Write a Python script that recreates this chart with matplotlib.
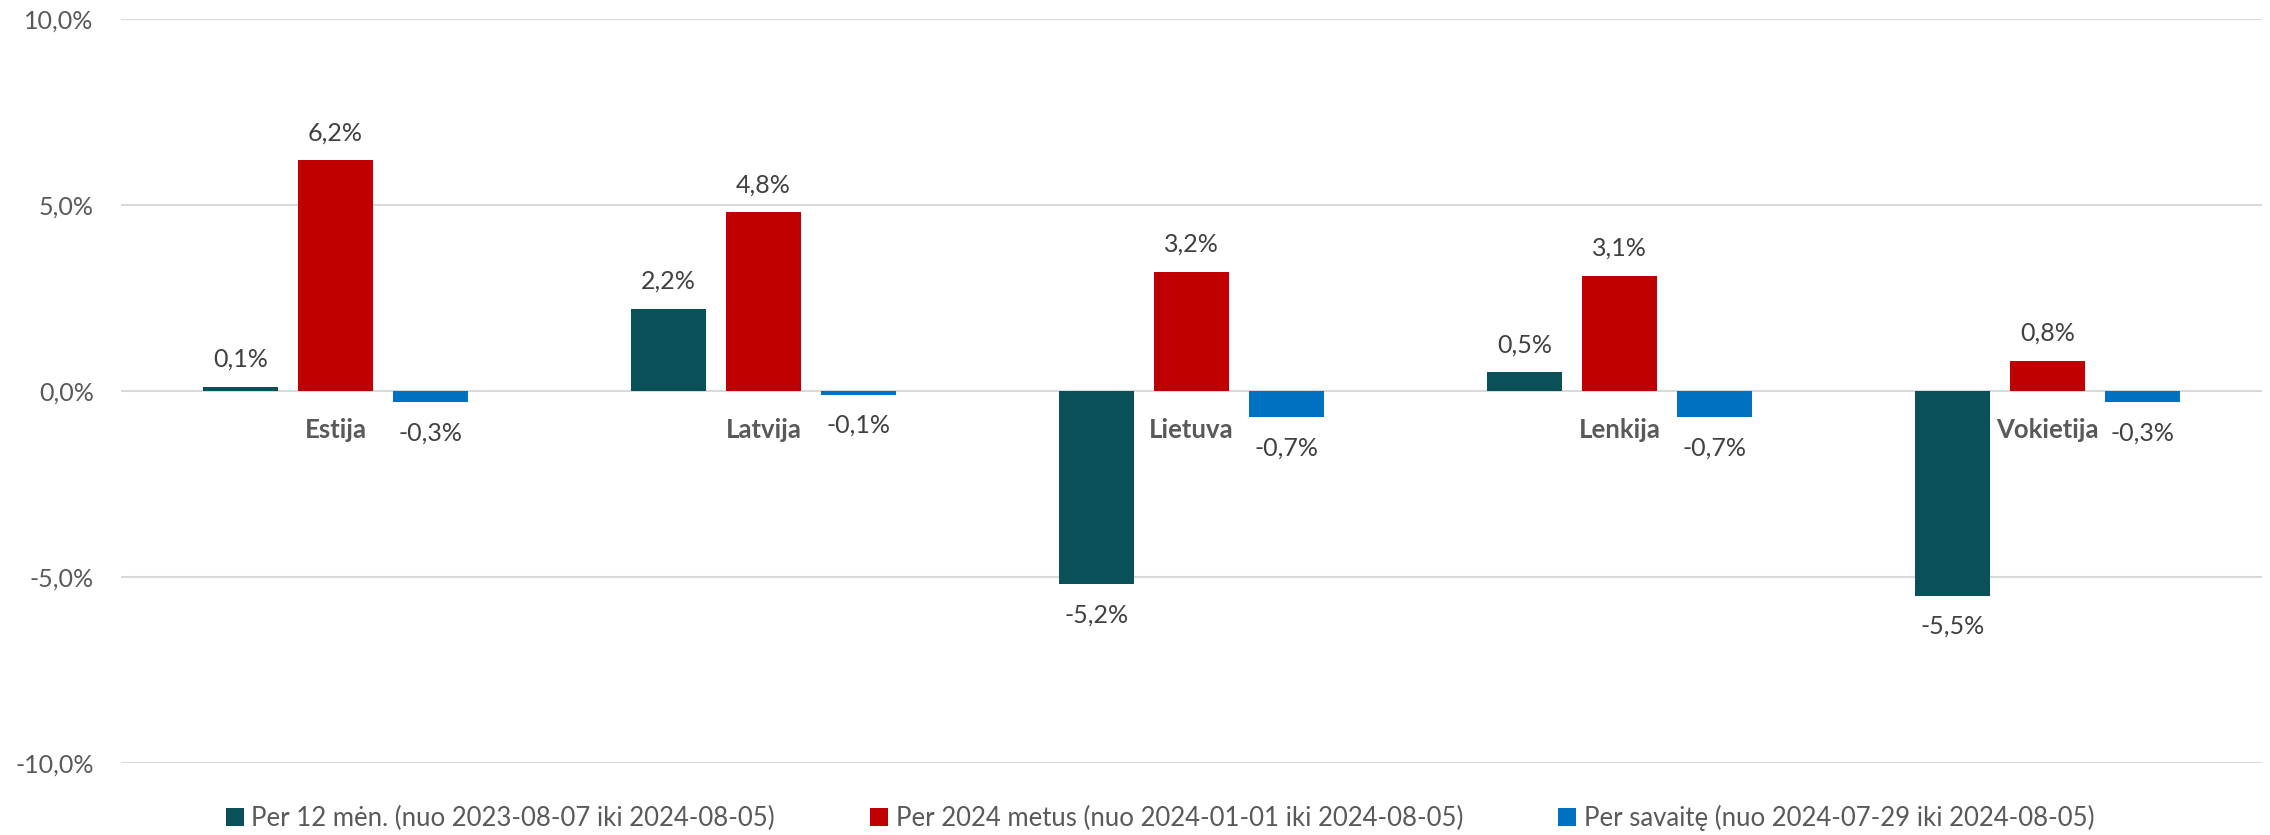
import matplotlib
matplotlib.use("Agg")
import matplotlib.pyplot as plt
import numpy as np
from matplotlib.ticker import FuncFormatter

plt.rcParams["font.family"] = ["Lato", "DejaVu Sans"]

countries = ["Estija", "Latvija", "Lietuva", "Lenkija", "Vokietija"]
series_names = [
    "Per 12 mėn. (nuo 2023-08-07 iki 2024-08-05)",
    "Per 2024 metus (nuo 2024-01-01 iki 2024-08-05)",
    "Per savaitę (nuo 2024-07-29 iki 2024-08-05)",
]
per_12m = [0.1, 2.2, -5.2, 0.5, -5.5]
per_2024 = [6.2, 4.8, 3.2, 3.1, 0.8]
per_week = [-0.3, -0.1, -0.7, -0.7, -0.3]
colors = ["#0A5058", "#C00000", "#0070C0"]


def pct(v):
    return f"{v:.1f}%".replace(".", ",")


fig = plt.figure(figsize=(22.7, 8.35), dpi=100)
ax = fig.add_axes([121.5 / 2270, 1 - 763 / 835, (2261.5 - 121.5) / 2270, (763 - 19) / 835])

x = np.arange(len(countries))
width = 0.175
step = 0.222
for j, (vals, name, col) in enumerate(zip([per_12m, per_2024, per_week], series_names, colors)):
    pos = x + (j - 1) * step
    ax.bar(pos, vals, width=width, color=col, label=name, zorder=3)
    for xp, v in zip(pos, vals):
        off = 20 if v >= 0 else -22
        ax.annotate(pct(v), (xp, v), xytext=(0, off), textcoords="offset points",
                    ha="center", va="center", fontsize=18, color="#404040")

for i, c in enumerate(countries):
    ax.annotate(c, (i, 0), xytext=(0, -28), textcoords="offset points",
                ha="center", va="center", fontsize=18.5, fontweight="bold", color="#595959")

ax.set_xlim(-0.5, len(countries) - 0.5)
ax.set_ylim(-10, 10)
ax.set_yticks([-10, -5, 0, 5, 10])
ax.yaxis.set_major_formatter(FuncFormatter(lambda v, p: pct(v)))
ax.tick_params(axis="y", length=0, pad=20, labelsize=18, labelcolor="#595959")
ax.set_xticks([])
ax.grid(axis="y", color="#D9D9D9", linewidth=1.5, zorder=0)
for s in ax.spines.values():
    s.set_visible(False)

fig.legend(loc="center", bbox_to_anchor=(1160 / 2270, 1 - 818 / 835), ncol=3, frameon=False,
           fontsize=18.5, labelcolor="#595959", handlelength=0.7, handleheight=0.7,
           handletextpad=0.3, columnspacing=3.7)

fig.savefig("out.png", dpi=100)
